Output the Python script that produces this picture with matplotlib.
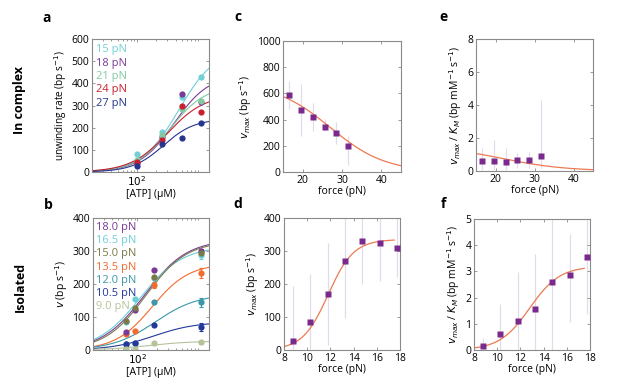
import numpy as np
import matplotlib
matplotlib.use("Agg")
import matplotlib.pyplot as plt
from matplotlib.ticker import FixedLocator, NullFormatter, LogLocator

# ---------------- data ----------------
# panel a (in complex): ATP concentrations and unwinding rates
atp_a = [100, 250, 500, 1000]
forces_a = ["15 pN", "18 pN", "21 pN", "24 pN", "27 pN"]
colors_a = ["#72d0d6", "#7a3a98", "#82c9a2", "#c8202f", "#27358f"]
rate_15 = [83, 181, 338, 427]
rate_18 = [42, 158, 350, 318]
rate_21 = [53, 166, 284, 322]
rate_24 = [45, 143, 300, 272]
rate_27 = [27, 125, 152, 219]
# Hill fit parameters (Vmax, K, n) per force
fit_a_vmax = [560, 440, 390, 350, 240]
fit_a_k = [450, 380, 330, 300, 260]
fit_a_n = [1.5, 1.6, 1.6, 1.5, 1.8]

# panel b (isolated)
atp_b = [65, 90, 184, 1000]
forces_b = ["18.0 pN", "16.5 pN", "15.0 pN", "13.5 pN", "12.0 pN", "10.5 pN", "9.0 pN"]
colors_b = ["#7a3a98", "#6ccfd8", "#7a7a48", "#f26b2f", "#3a98a8", "#23399a", "#b5c29a"]
v_180 = [54, 121, 242, 299]
v_165 = [86, 155, 218, 289]
v_150 = [88, 128, 222, 294]
v_135 = [50, 57, 197, 233]
v_120 = [19, 22, 145, 145]
v_105 = [17, 20, 76, 71]
v_090 = [3, 3, 22, 23]
err_b = [[0, 0, 0, 8], [0, 0, 0, 12], [0, 0, 0, 8], [0, 0, 8, 14],
         [0, 0, 0, 14], [0, 0, 0, 12], [0, 0, 0, 4]]
fit_b_vmax = [335, 315, 330, 262, 170, 85, 27]
fit_b_k = [130, 110, 135, 170, 190, 180, 150]
fit_b_n = [1.3, 1.3, 1.35, 1.5, 1.3, 1.3, 1.3]

# panel c / e (in complex) vs force
force_ce = [16.6, 19.6, 22.6, 25.6, 28.6, 31.6]
vmax_c = [584, 474, 421, 345, 295, 199]
vmax_c_lo = [478, 275, 315, 310, 214, 50]
vmax_c_hi = [693, 673, 529, 403, 378, 277]
ratio_e = [0.62, 0.62, 0.56, 0.68, 0.68, 0.88]
ratio_e_lo = [0.06, 0.06, 0.06, 0.16, 0.16, 0.16]
ratio_e_hi = [1.37, 1.87, 1.41, 1.07, 1.17, 4.28]
fit_c = (680, 27.0, 7.0)   # amplitude, midpoint, width (decreasing logistic)
fit_e = (1.5, 22.0, 8.0)

# panel d / f (isolated) vs force
force_df = [8.75, 10.25, 11.75, 13.25, 14.75, 16.25, 17.75]
vmax_d = [28, 86, 171, 269, 331, 324, 310]
vmax_d_lo = [3, 3, 15, 98, 201, 209, 222]
vmax_d_hi = [194, 229, 324, 400, 400, 400, 400]
ratio_f = [0.15, 0.61, 1.12, 1.56, 2.58, 2.88, 3.55]
ratio_f_lo = [0.0, 0.0, 0.0, 0.0, 0.0, 1.08, 1.36]
ratio_f_hi = [0.45, 1.76, 2.96, 3.65, 5.0, 4.44, 5.0]
fit_d = (335, 11.8, 1.1)   # amplitude, midpoint, width (increasing logistic)
fit_f = (3.2, 12.8, 1.3)

# ---------------- figure ----------------
W, H = 617, 392
fig = plt.figure(figsize=(W / 100, H / 100), dpi=100)
plt.rcParams['font.family'] = ['Open Sans', 'DejaVu Sans']

FS = 7.5
SPINE = "#8a8a8a"
FITC = "#ec7a52"
SQC = "#7a2a8c"
ERRC = "#e2dbe9"


def box(l, r, t, b):
    return [l / W, (H - b) / H, (r - l) / W, (b - t) / H]


def style(ax):
    for s in ax.spines.values():
        s.set_color(SPINE)
        s.set_linewidth(0.8)
    ax.tick_params(direction="in", top=True, right=True, labelsize=FS,
                   color=SPINE, length=2.5, width=0.6, pad=2)


def hill(x, v, k, n):
    x = np.asarray(x, dtype=float)
    return v * x ** n / (k ** n + x ** n)


def logistic(x, a, x0, w, sign):
    x = np.asarray(x, dtype=float)
    return a / (1 + np.exp(-sign * (x - x0) / w))


# ---- panel a ----
ax = fig.add_axes(box(92, 209, 39, 172))
style(ax)
ax.set_xscale("log")
xs = np.logspace(np.log10(20), np.log10(1330), 200)
rates_a = [rate_15, rate_18, rate_21, rate_24, rate_27]
for i, (r, c) in enumerate(zip(rates_a, colors_a)):
    ax.plot(xs, hill(xs, fit_a_vmax[i], fit_a_k[i], fit_a_n[i]), color=c, lw=0.8)
for i, (r, c) in enumerate(zip(rates_a, colors_a)):
    ax.plot(atp_a, r, "o", color=c, ms=4.5, mec="none")
ax.set_xlim(20, 1330)
ax.set_ylim(0, 600)
ax.set_yticks(range(0, 601, 100))
ax.xaxis.set_major_locator(FixedLocator([100]))
ax.xaxis.set_minor_locator(LogLocator(base=10, subs=np.arange(2, 10)))
ax.xaxis.set_minor_formatter(NullFormatter())
ax.set_xticklabels(["$10^2$"])
ax.tick_params(which="minor", direction="in", top=True, length=1.5, color=SPINE)
ax.set_xlabel("[ATP] (μM)", fontsize=FS, labelpad=0)
ax.set_ylabel("unwinding rate (bp s$^{-1}$)", fontsize=7.2, labelpad=2)
for i, (lab, c) in enumerate(zip(forces_a, colors_a)):
    ax.text(0.03, 0.96 - i * 0.1, lab, color=c, fontsize=FS + 0.5,
            transform=ax.transAxes, va="top", ha="left")

# ---- panel b ----
ax = fig.add_axes(box(93, 209, 218, 350))
style(ax)
ax.set_xscale("log")
vals_b = [v_180, v_165, v_150, v_135, v_120, v_105, v_090]
for i, c in enumerate(colors_b):
    ax.plot(xs, hill(xs, fit_b_vmax[i], fit_b_k[i], fit_b_n[i]), color=c, lw=0.8)
order = [1, 3, 0, 2, 4, 5, 6]
for i in order:
    v, c = vals_b[i], colors_b[i]
    ax.errorbar(atp_b, v, yerr=err_b[i], fmt="o", color=c, ms=4.5, mec="none",
                elinewidth=0.8, capsize=1.5, capthick=0.8)
ax.set_xlim(20, 1330)
ax.set_ylim(0, 400)
ax.set_yticks(range(0, 401, 100))
ax.xaxis.set_major_locator(FixedLocator([100]))
ax.xaxis.set_minor_locator(LogLocator(base=10, subs=np.arange(2, 10)))
ax.xaxis.set_minor_formatter(NullFormatter())
ax.set_xticklabels(["$10^2$"])
ax.tick_params(which="minor", direction="in", top=True, length=1.5, color=SPINE)
ax.set_xlabel("[ATP] (μM)", fontsize=FS, labelpad=0)
ax.set_ylabel("$v$ (bp s$^{-1}$)", fontsize=FS, labelpad=2)
for i, (lab, c) in enumerate(zip(forces_b, colors_b)):
    ax.text(0.03, 0.97 - i * 0.1, lab, color=c, fontsize=FS + 0.5,
            transform=ax.transAxes, va="top", ha="left")


def force_panel(rect, x, y, lo, hi, fit, sign, xlim, ylim, yticks, xticks,
                ylabel, xfit):
    ax = fig.add_axes(rect)
    style(ax)
    y = np.asarray(y)
    yerr = [y - np.asarray(lo), np.asarray(hi) - y]
    ax.errorbar(x, y, yerr=yerr, fmt="none", ecolor=ERRC, elinewidth=0.9,
                capsize=0, zorder=1)
    ax.plot(xfit, logistic(xfit, *fit, sign), color=FITC, lw=0.9, zorder=2)
    ax.plot(x, y, "s", color=SQC, ms=4, mec="none", zorder=3)
    ax.set_xlim(*xlim)
    ax.set_ylim(*ylim)
    ax.set_yticks(yticks)
    ax.set_xticks(xticks)
    ax.set_xlabel("force (pN)", fontsize=FS, labelpad=0)
    ax.set_ylabel(ylabel, fontsize=FS, labelpad=2)
    return ax


force_panel(box(283, 401, 41, 172), force_ce, vmax_c, vmax_c_lo, vmax_c_hi,
            fit_c, -1, (15, 45), (0, 1000), range(0, 1001, 200), [20, 30, 40],
            "$v_{max}$ (bp s$^{-1}$)", np.linspace(15, 45, 200))
force_panel(box(476, 593, 39, 171), force_ce, ratio_e, ratio_e_lo, ratio_e_hi,
            fit_e, -1, (15, 45), (0, 8), range(0, 9, 2), [20, 30, 40],
            "$v_{max}$ / $K_M$ (bp mM$^{-1}$ s$^{-1}$)", np.linspace(15, 45, 200))
force_panel(box(284, 400, 218, 350), force_df, vmax_d, vmax_d_lo, vmax_d_hi,
            fit_d, 1, (8, 18), (0, 400), range(0, 401, 100), range(8, 19, 2),
            "$v_{max}$ (bp s$^{-1}$)", np.linspace(8.1, 17.5, 200))
force_panel(box(474, 590, 219, 350), force_df, ratio_f, ratio_f_lo, ratio_f_hi,
            fit_f, 1, (8, 18), (0, 5), range(0, 6), range(8, 19, 2),
            "$v_{max}$ / $K_M$ (bp mM$^{-1}$ s$^{-1}$)", np.linspace(8, 17.5, 200))

# panel letters and row labels
for lab, x, y in [("a", 47, 18), ("b", 48, 205), ("c", 238, 17), ("d", 238, 204),
                  ("e", 443, 17), ("f", 443, 204)]:
    fig.text(x / W, 1 - y / H, lab, fontsize=10, fontweight="bold",
             ha="center", va="center")
fig.text(19 / W, 1 - 100 / H, "In complex", fontsize=9, fontweight="bold",
         rotation=90, ha="center", va="center")
fig.text(20 / W, 1 - 287 / H, "Isolated", fontsize=9, fontweight="bold",
         rotation=90, ha="center", va="center")

fig.savefig("out.png", dpi=100)
